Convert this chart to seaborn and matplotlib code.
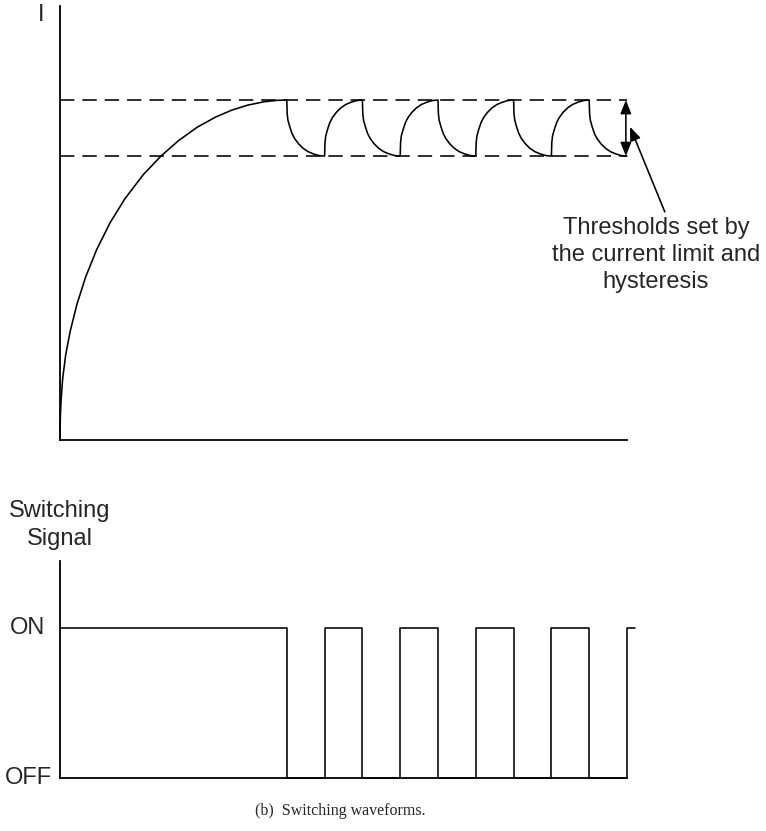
import matplotlib
matplotlib.use("Agg")
import matplotlib.pyplot as plt
import seaborn as sns

sns.set_style("white")
plt.rcParams["font.family"] = ["Liberation Sans", "DejaVu Sans"]

# ---------------- data ----------------
# current thresholds (normalised current units)
I_UPPER = 1.0
I_LOWER = 0.835

# initial charging curve of the current
RISE_T = [0.0, 0.002, 0.01, 0.03, 0.07, 0.15, 0.27, 0.45, 0.68, 0.97,
          1.33, 1.72, 2.20, 2.67, 3.13, 3.63, 4.12, 4.54, 4.97, 5.41, 5.75, 6.0]
RISE_I = [0.0, 0.03, 0.07, 0.12, 0.18, 0.25, 0.32, 0.40, 0.48, 0.56,
          0.64, 0.71, 0.78, 0.835, 0.88, 0.92, 0.95, 0.97, 0.985, 0.995, 0.999, 1.0]

# switching instants (time units) after the first peak
SWITCH_T = [6, 7, 8, 9, 10, 11, 12, 13, 14, 15]
# shape of one ripple arc: fraction of the swing done vs fraction of the interval
ARC_DT = [0, 0.01, 0.03, 0.08, 0.14, 0.21, 0.31, 0.43, 0.56, 0.70, 0.85, 1.0]
ARC_FRAC = [0, 0.24, 0.36, 0.48, 0.60, 0.69, 0.78, 0.86, 0.92, 0.96, 0.99, 1.0]

# switching signal (1 = ON, 0 = OFF), step changes at these times
SIG_T = [0, 6, 7, 8, 9, 10, 11, 12, 13, 14, 15, 15.2]
SIG_V = [1, 0, 1, 0, 1, 0, 1, 0, 1, 0, 1, 1]

ANNOT_TEXT = "Thresholds set by\nthe current limit and\nhysteresis"
CAPTION = "(b)  Switching waveforms."

# ---------------- build current waveform ----------------
cur_t = list(RISE_T)
cur_i = list(RISE_I)
swing = I_UPPER - I_LOWER
for k in range(len(SWITCH_T) - 1):
    ts, te = SWITCH_T[k], SWITCH_T[k + 1]
    falling = (k % 2 == 0)
    for dt, fr in zip(ARC_DT[1:], ARC_FRAC[1:]):
        cur_t.append(ts + dt * (te - ts))
        cur_i.append(I_UPPER - fr * swing if falling else I_LOWER + fr * swing)

# ---------------- figure ----------------
W, H = 766, 831
fig = plt.figure(figsize=(W / 100, H / 100), dpi=100)

def px_rect(x0, y_top, x1, y_bot):
    return [x0 / W, 1 - y_bot / H, (x1 - x0) / W, (y_bot - y_top) / H]

LW = 1.15
ax1 = fig.add_axes(px_rect(60, 6, 627, 440))
ax1.set_xlim(0, 15)
ax1.set_ylim(0, (440 - 6) / 340)

sns.lineplot(x=cur_t, y=cur_i, sort=False, estimator=None, color="black",
             lw=LW, ax=ax1, clip_on=False)
for lvl in (I_UPPER, I_LOWER):
    ax1.plot([0, 15], [lvl, lvl], color="black", lw=LW,
             linestyle=(0, (9, 5)), clip_on=False)

HEAD = "head_length=0.75,head_width=0.3"
# double-headed threshold arrow
ax1.annotate("", xy=(14.97, I_UPPER), xytext=(14.97, I_LOWER),
             arrowprops=dict(arrowstyle="<|-|>," + HEAD,
                             color="black", lw=LW,
                             mutation_scale=11, shrinkA=0, shrinkB=0),
             annotation_clip=False)
# pointer from text
ax1.annotate("", xy=(15.08, 0.921), xytext=(16.0, 0.671),
             arrowprops=dict(arrowstyle="-|>," + HEAD,
                             color="black", lw=LW,
                             mutation_scale=11, shrinkA=0, shrinkB=0),
             annotation_clip=False)

ax2 = fig.add_axes(px_rect(60, 561, 627, 778))
ax2.set_xlim(0, 15)
ax2.set_ylim(0, (778 - 561) / 150)
sns.lineplot(x=SIG_T, y=SIG_V, sort=False, estimator=None, color="black",
             lw=LW, ax=ax2, drawstyle="steps-post", clip_on=False)

for ax in (ax1, ax2):
    sns.despine(ax=ax)
    for s in ("left", "bottom"):
        ax.spines[s].set_linewidth(1.3)
        ax.spines[s].set_color("black")
    ax.set_xticks([])
    ax.set_yticks([])
    ax.set_xlabel("")
    ax.set_ylabel("")
    ax.patch.set_alpha(0)

FS = 17
def ftext(x, y, s, **kw):
    fig.text(x / W, 1 - y / H, s, **kw)

ftext(41, 15, "I", fontsize=FS, ha="center", va="center")
ftext(656, 255, ANNOT_TEXT, fontsize=FS, ha="center", va="center",
      linespacing=1.3)
ftext(60, 525, "Switching\nSignal", fontsize=FS, ha="center", va="center",
      linespacing=1.3)
ftext(45, 628, "ON", fontsize=FS, ha="right", va="center")
ftext(52, 778, "OFF", fontsize=FS, ha="right", va="center")
ftext(340, 811, CAPTION, fontsize=11.5, ha="center", va="center",
      family=["Liberation Serif", "DejaVu Serif"])

fig.savefig("out.png", dpi=100)
